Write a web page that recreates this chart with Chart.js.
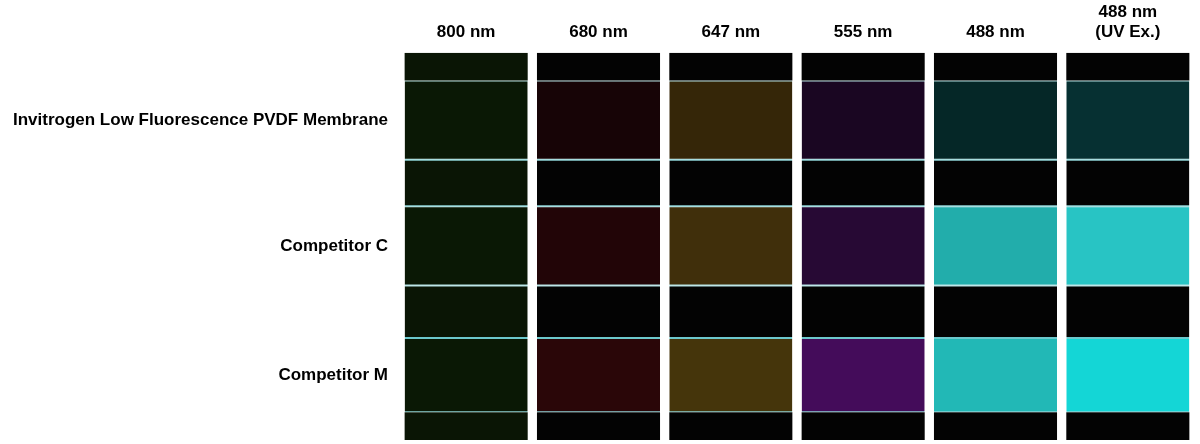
<!DOCTYPE html>
<html><head><meta charset="utf-8">
<script src="https://cdn.jsdelivr.net/npm/chart.js@4/dist/chart.umd.min.js"></script>
<style>html,body{margin:0;background:#fff}#w{width:1200px;height:444px}</style>
</head><body><div id="w"><canvas id="c"></canvas></div>
<script>
const channels = ["800 nm","680 nm","647 nm","555 nm","488 nm",["488 nm","(UV Ex.)"]];
const rowLabels = ["Invitrogen Low Fluorescence PVDF Membrane","Competitor C","Competitor M"];
const segmentNames = ["gap0","Invitrogen","gap1","Competitor C","gap2","Competitor M","gap3"];
const segmentHeights = [28,80,47,80,53,75,28];
const gapColor = ["#0a1505","#030303","#030303","#030303","#030303","#030303"];
const invitrogenColor = ["#0a1805","#170406","#352608","#1a0622","#052727","#063032"];
const competitorCColor = ["#0a1805","#220507","#402f0b","#270934","#22adab","#28c4c4"];
const competitorMColor = ["#0a1805","#2a0608","#45350b","#440c5a","#22b8b6","#14d6d6"];
const segColors = [gapColor,invitrogenColor,gapColor,competitorCColor,gapColor,competitorMColor,gapColor];
const datasets = segmentNames.map((n,i)=>({
  label:n, data:channels.map(()=>segmentHeights[i]),
  backgroundColor:segColors[i], borderColor:"#6cc8cc",
  borderWidth: i===0||i===6 ? 0 : {top:1,bottom:1,left:0,right:0},
  borderSkipped:false, barPercentage:0.93, categoryPercentage:1
}));
const rowPlugin = {id:"rows",afterDraw(ch){
  const y=ch.scales.y, ctx=ch.ctx; let acc=0; const mids=[];
  segmentHeights.forEach((h,i)=>{ if(i%2===1) mids.push(acc+h/2); acc+=h; });
  ctx.save(); ctx.font="bold 17px Liberation Sans, Arial"; ctx.fillStyle="#000";
  ctx.textAlign="right"; ctx.textBaseline="middle";
  mids.forEach((m,i)=>ctx.fillText(rowLabels[i],ch.chartArea.left-12,y.getPixelForValue(m)));
  ctx.restore();
}};
new Chart(document.getElementById("c"),{type:"bar",
 data:{labels:channels,datasets},
 options:{responsive:true,maintainAspectRatio:false,animation:false,
  layout:{padding:{left:400,right:6,top:0,bottom:4}},
  plugins:{legend:{display:false},tooltip:{enabled:false}},
  scales:{
   x:{stacked:true,position:"top",grid:{display:false},border:{display:false},
      ticks:{color:"#000",font:{family:"Liberation Sans, Arial",weight:"bold",size:17},padding:2}},
   y:{stacked:true,reverse:true,min:0,max:391,display:false}
  }},
 plugins:[rowPlugin]});
</script></body></html>
